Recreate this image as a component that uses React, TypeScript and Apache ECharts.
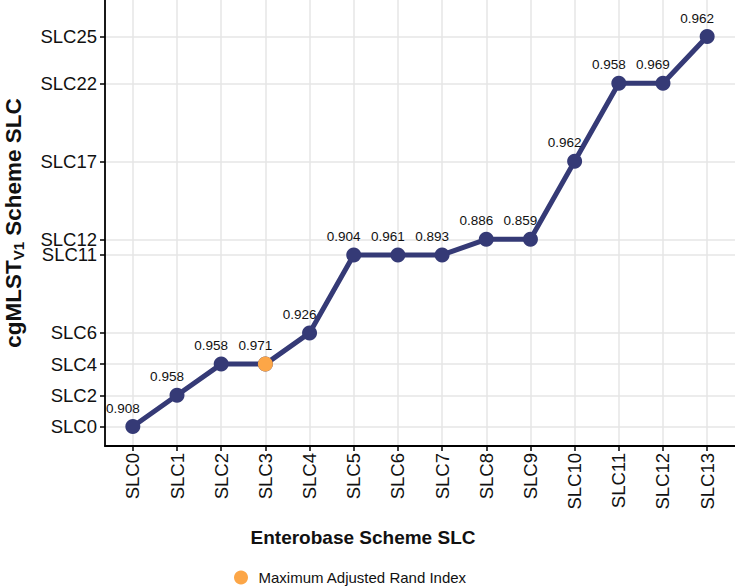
import React, { useEffect, useRef } from "react";
import * as echarts from "echarts";

// Enterobase SLC levels (x) against the matching cgMLST V1 SLC level (y)
const enterobaseLevels = ["SLC0", "SLC1", "SLC2", "SLC3", "SLC4", "SLC5", "SLC6", "SLC7", "SLC8", "SLC9", "SLC10", "SLC11", "SLC12", "SLC13"];
const cgmlstLevel = [0, 2, 4, 4, 6, 11, 11, 11, 12, 12, 17, 22, 22, 25];
const adjustedRand = [0.908, 0.958, 0.958, 0.971, 0.926, 0.904, 0.961, 0.893, 0.886, 0.859, 0.962, 0.958, 0.969, 0.962];
const yTickLevels = [0, 2, 4, 6, 11, 12, 17, 22, 25];

const FONT = "'Liberation Sans', Arial, Helvetica, sans-serif";
const NAVY = "#353a76";
const ORANGE = "#fca647";
const GRID = "#e6e6e6";

export default function App() {
  const ref = useRef<HTMLDivElement>(null);

  useEffect(() => {
    if (!ref.current) return;
    const chart = echarts.init(ref.current, null, { renderer: "svg" });

    const xIdx = enterobaseLevels.map((_, i) => i);
    const lineData = xIdx.map((i) => [i, cgmlstLevel[i]]);
    let best = 0;
    adjustedRand.forEach((v, i) => {
      if (v > adjustedRand[best]) best = i;
    });

    chart.setOption({
      animation: false,
      backgroundColor: "#ffffff",
      textStyle: { fontFamily: FONT },
      grid: { left: 105, right: 0, top: 0, bottom: 141, containLabel: false },
      xAxis: {
        type: "value",
        min: -0.63,
        max: 13.63,
        axisLine: { show: true, onZero: false, lineStyle: { color: "#000", width: 1.8 } },
        axisTick: { show: true, length: 5, customValues: xIdx, lineStyle: { color: "#000", width: 1.5 } },
        axisLabel: {
          customValues: xIdx,
          rotate: 90,
          margin: 7,
          color: "#111",
          fontSize: 18.5,
          fontFamily: FONT,
          formatter: (v: number) => enterobaseLevels[Math.round(v)] ?? "",
        },
        splitLine: { show: true, lineStyle: { color: GRID, width: 1.5 } },
      },
      yAxis: {
        type: "value",
        min: -1.25,
        max: 27.34,
        axisLine: { show: true, onZero: false, lineStyle: { color: "#000", width: 1.8 } },
        axisTick: { show: true, length: 5, customValues: yTickLevels, lineStyle: { color: "#000", width: 1.5 } },
        axisLabel: {
          customValues: yTickLevels,
          margin: 8,
          color: "#111",
          fontSize: 18.5,
          fontFamily: FONT,
          formatter: (v: number) => "SLC" + Math.round(v),
        },
        splitLine: { show: true, lineStyle: { color: GRID, width: 1.5 } },
      },
      legend: {
        data: ["Maximum Adjusted Rand Index"],
        left: 234,
        top: 570,
        padding: 0,
        itemWidth: 25,
        itemHeight: 14,
        icon: "circle",
        textStyle: { fontSize: 15, color: "#111", fontFamily: FONT },
      },
      series: [
        {
          name: "SLC match",
          type: "line",
          data: lineData,
          symbol: "circle",
          symbolSize: 15,
          itemStyle: { color: NAVY },
          lineStyle: { color: NAVY, width: 5 },
          label: {
            show: true,
            position: "top",
            distance: 4,
            offset: [-10, 0],
            color: "#111",
            fontSize: 13.5,
            fontFamily: FONT,
            formatter: (p: any) => adjustedRand[p.dataIndex].toFixed(3),
          },
          z: 2,
        },
        {
          name: "Maximum Adjusted Rand Index",
          type: "scatter",
          data: [[best, cgmlstLevel[best]]],
          symbol: "circle",
          symbolSize: 15,
          itemStyle: { color: ORANGE, opacity: 1 },
          z: 3,
        },
      ],
      graphic: [
        {
          type: "text",
          x: 363,
          y: 537,
          style: {
            text: "Enterobase Scheme SLC",
            align: "center",
            verticalAlign: "middle",
            fontSize: 19,
            fontWeight: "bold",
            fontFamily: FONT,
            fill: "#111",
          },
        },
        {
          type: "text",
          x: 13,
          y: 223,
          rotation: Math.PI / 2,
          style: {
            text: "{b|cgMLST}{s|V1}{b| Scheme SLC}",
            align: "center",
            verticalAlign: "middle",
            fill: "#111",
            rich: {
              b: { fontSize: 22.5, fontWeight: "bold", fontFamily: FONT, lineHeight: 26, fill: "#111" },
              s: { fontSize: 15, fontWeight: "bold", fontFamily: FONT, lineHeight: 12, verticalAlign: "bottom", fill: "#111" },
            },
          },
        },
      ],
    });

    return () => chart.dispose();
  }, []);

  return (
    <div
      ref={ref}
      style={{ position: "fixed", left: 0, top: 0, width: 735, height: 587, background: "#fff" }}
    />
  );
}
